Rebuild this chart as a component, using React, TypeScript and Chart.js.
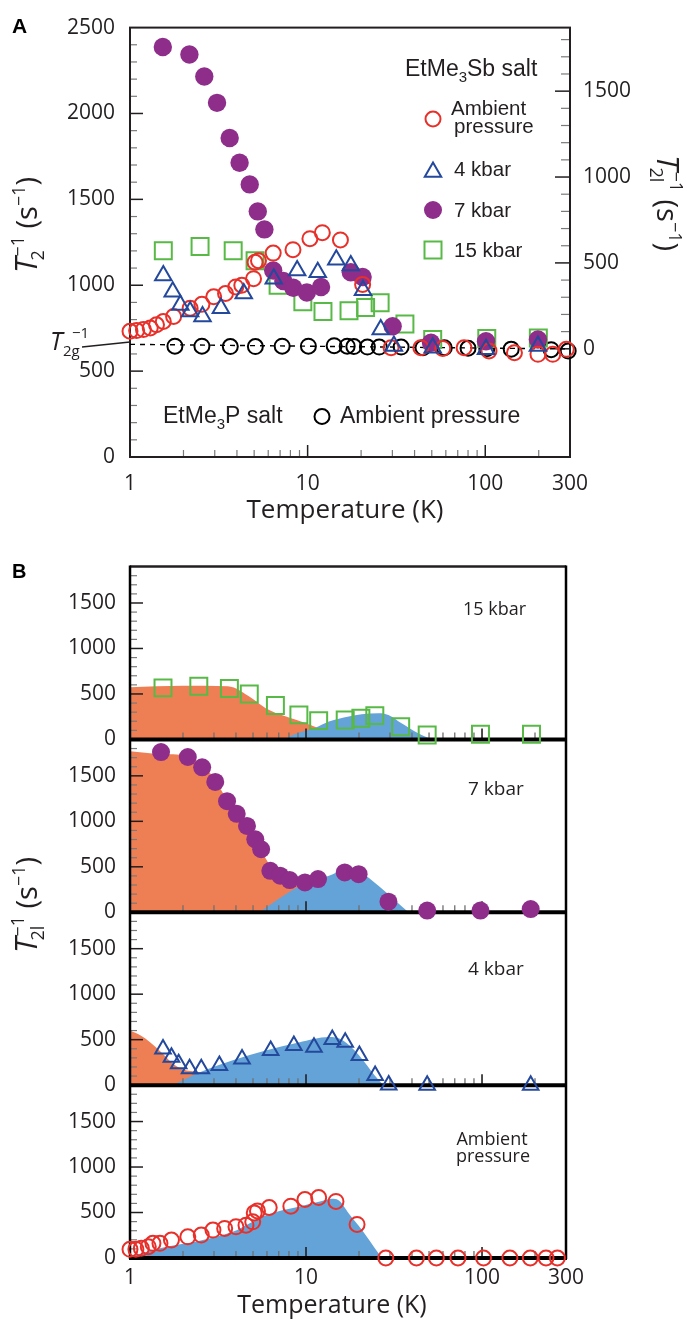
import React, { useEffect, useRef } from "react";
import { Chart, registerables } from "chart.js";

Chart.register(...registerables);

const OPEN = "'Open Sans', 'Noto Sans', sans-serif";
const ARIAL = "'Liberation Sans', Arial, sans-serif";
const INK = "#231f20";
const RED = "#e8302a";
const NAVY = "#23489c";
const PURPLE = "#8e2d8a";
const GREEN = "#58b947";
const ORANGE = "#ee7f55";
const SKY = "#64a3d8";

// shared temperature axis
const tempTicks = [1, 10, 100, 300];
const tempTickLabels = ["1", "10", "100", "300"];
const tempMinor = [2, 3, 4, 5, 6, 7, 8, 9, 20, 30, 40, 50, 60, 70, 80, 90, 200];
const tempMajor = [10, 100];

// ---------------- Panel A ----------------
const aLeftTicks = [0, 500, 1000, 1500, 2000, 2500];
const aRightTicks = [0, 500, 1000, 1500];

const aAmbT = [1.0, 1.09, 1.19, 1.3, 1.41, 1.54, 1.76, 2.18, 2.54, 2.96, 3.45, 3.94, 4.26, 4.96, 5.06, 5.29, 6.4, 8.27, 10.3, 12.1, 15.3, 20.4, 29.5, 43.4, 57.6, 76, 105, 146, 198, 240, 286];
const aAmbV = [732, 736, 742, 751, 770, 789, 818, 866, 889, 933, 952, 990, 1000, 1038, 1134, 1143, 1187, 1207, 1271, 1306, 1264, 1005, 636, 636, 632, 636, 617, 607, 598, 598, 627];

const aK4T = [1.54, 1.74, 1.92, 2.18, 2.56, 3.25, 4.37, 6.45, 8.73, 11.4, 14.5, 17.5, 20.5, 25.8, 30.6, 50.6, 101, 198];
const aK4V = [1057, 962, 885, 847, 818, 866, 952, 1038, 1086, 1076, 1148, 1115, 971, 742, 646, 636, 627, 646];

const aK7T = [1.53, 2.16, 2.62, 3.09, 3.64, 4.14, 4.72, 5.24, 5.71, 6.4, 7.3, 8.3, 9.9, 11.9, 17.5, 20.4, 30.1, 49.5, 101, 198];
const aK7V = [2387, 2343, 2215, 2062, 1857, 1713, 1587, 1430, 1325, 1086, 1025, 985, 958, 990, 1076, 1048, 761, 665, 674, 684];

const aK15T = [1.54, 2.48, 3.81, 5.06, 6.82, 9.4, 12.2, 17.1, 21.2, 25.6, 35.3, 50.6, 102, 199];
const aK15V = [1201, 1226, 1201, 1143, 1000, 904, 847, 851, 870, 898, 774, 684, 690, 693];

const aPT = [1.79, 2.54, 3.67, 5.08, 7.19, 10.1, 14.1, 16.7, 18.2, 21.7, 25.3, 33.6, 44.6, 58.8, 80, 102, 140, 235, 293];
const aPV = [645, 645, 643, 643, 645, 645, 648, 645, 643, 640, 640, 640, 636, 636, 633, 630, 628, 625, 617];

const t2gT = [1, 300];
const t2gV = [656, 629];

// ---------------- Panel B ----------------
const bLeftTicks = [0, 500, 1000, 1500];

const bK15T = [1.54, 2.46, 3.67, 4.76, 6.7, 9.11, 11.8, 16.7, 20.5, 24.6, 34.5, 48.8, 98, 191];
const bK15V = [567, 584, 559, 500, 373, 270, 207, 214, 233, 262, 140, 48, 56, 56];

const bK7T = [1.5, 2.13, 2.57, 3.05, 3.56, 4.04, 4.62, 5.15, 5.56, 6.27, 7.13, 8.08, 9.86, 11.7, 16.6, 19.9, 29.4, 48.8, 98, 189];
const bK7V = [1761, 1707, 1594, 1433, 1222, 1083, 949, 802, 693, 456, 402, 354, 328, 365, 438, 419, 117, 19, 19, 36];

const bK4T = [1.54, 1.72, 1.89, 2.18, 2.54, 3.22, 4.33, 6.3, 8.53, 11.1, 14.1, 16.7, 20.1, 24.7, 29.5, 48.8, 189];
const bK4V = [398, 307, 234, 179, 179, 216, 288, 380, 435, 416, 503, 471, 325, 106, 3, 0, 0];

const bAmbT = [1.0, 1.08, 1.16, 1.27, 1.35, 1.48, 1.72, 2.13, 2.54, 2.96, 3.45, 4.0, 4.56, 4.98, 5.08, 5.3, 6.18, 8.2, 9.86, 11.8, 14.8, 19.5, 28.4, 42.4, 55, 73, 102, 144, 188, 231, 268];
const bAmbV = [95, 95, 106, 124, 161, 161, 197, 233, 252, 307, 325, 343, 361, 398, 496, 518, 555, 570, 643, 665, 622, 369, 0, 0, 0, 0, 0, 0, 0, 0, 0];

const orange15T = [1, 2, 3.6, 4.9, 5.9, 7.7, 10, 11.8, 14, 17];
const orange15V = [575, 590, 585, 456, 344, 251, 178, 122, 60, 0];
const sky15T = [7.35, 9, 11.3, 13.5, 17.5, 20.7, 25.8, 29.4, 34.9, 43.4, 51.8];
const sky15V = [0, 70, 129, 196, 251, 278, 289, 270, 178, 67, 0];

const orange7T = [1, 1.48, 2.09, 2.48, 2.95, 3.51, 4.0, 4.56, 5.08, 5.66, 6.18, 7, 8, 9.5, 11, 13];
const orange7V = [1769, 1740, 1724, 1641, 1496, 1258, 1113, 985, 839, 656, 528, 420, 340, 250, 120, 0];
const sky7T = [5.43, 7, 9.1, 11, 13.5, 16, 19, 22, 25.8, 32.2, 38.2];
const sky7V = [0, 150, 284, 340, 401, 456, 470, 400, 292, 128, 0];

const orange4T = [1, 1.15, 1.3, 1.54, 1.76, 2.1, 2.6, 2.85];
const orange4V = [600, 545, 471, 343, 233, 161, 124, 0];
const sky4T = [1.75, 2.5, 3.8, 5.9, 9.1, 13.5, 16, 20, 24.5, 27.5];
const sky4V = [0, 142, 270, 380, 470, 530, 500, 330, 110, 0];

const skyAmbT = [1, 1.5, 2.49, 3.83, 5.92, 9.1, 12, 14, 15.3, 17.5, 20.8, 25.8, 27];
const skyAmbV = [15, 110, 190, 288, 471, 562, 620, 650, 635, 490, 307, 51, 0];

// ---------------- helpers ----------------
const pts = (xs: number[], ys: number[]) => xs.map((x, i) => ({ x, y: ys[i] }));

type Seg = { t: string; font: string; dx?: number; dy?: number; adv?: boolean };

function richWidth(ctx: CanvasRenderingContext2D, segs: Seg[]) {
  let w = 0;
  for (const s of segs) {
    ctx.font = s.font;
    if (s.adv !== false) w += ctx.measureText(s.t).width + (s.dx || 0);
  }
  return w;
}

function drawRich(ctx: CanvasRenderingContext2D, segs: Seg[], x: number, y: number, align = "left") {
  ctx.textAlign = "left";
  ctx.textBaseline = "alphabetic";
  let cx = align === "center" ? x - richWidth(ctx, segs) / 2 : x;
  for (const s of segs) {
    ctx.font = s.font;
    ctx.fillText(s.t, cx + (s.dx || 0), y + (s.dy || 0));
    if (s.adv !== false) cx += ctx.measureText(s.t).width + (s.dx || 0);
  }
}

function drawRotated(ctx: CanvasRenderingContext2D, segs: Seg[], cx: number, cy: number, angle: number) {
  ctx.save();
  ctx.translate(cx, cy);
  ctx.rotate(angle);
  drawRich(ctx, segs, 0, 0, "center");
  ctx.restore();
}

function seg(ctx: CanvasRenderingContext2D, x1: number, y1: number, x2: number, y2: number, color: string, lw: number) {
  ctx.beginPath();
  ctx.strokeStyle = color;
  ctx.lineWidth = lw;
  ctx.moveTo(x1, y1);
  ctx.lineTo(x2, y2);
  ctx.stroke();
}

function circleMark(ctx: CanvasRenderingContext2D, x: number, y: number, r: number, color: string, filled: boolean) {
  ctx.beginPath();
  ctx.arc(x, y, r, 0, Math.PI * 2);
  if (filled) {
    ctx.fillStyle = color;
    ctx.fill();
  } else {
    ctx.strokeStyle = color;
    ctx.lineWidth = 2;
    ctx.stroke();
  }
}

function triMark(ctx: CanvasRenderingContext2D, x: number, y: number, r: number, color: string) {
  ctx.beginPath();
  let rad = 0;
  for (let i = 0; i < 3; i++) {
    const px = x + Math.sin(rad) * r;
    const py = y - Math.cos(rad) * r;
    if (i === 0) ctx.moveTo(px, py);
    else ctx.lineTo(px, py);
    rad += (2 * Math.PI) / 3;
  }
  ctx.closePath();
  ctx.strokeStyle = color;
  ctx.lineWidth = 2;
  ctx.stroke();
}

function titleSegs(sub: string, big: number): Seg[] {
  const small = Math.round(big * 0.62);
  return [
    { t: "T", font: `italic ${big + 2}px ${OPEN}` },
    { t: sub, font: `${small}px ${OPEN}`, dx: -3, dy: 7, adv: false },
    { t: "\u22121", font: `${small}px ${OPEN}`, dx: 1, dy: -13 },
    { t: " (s", font: `${big}px ${OPEN}` },
    { t: "\u22121", font: `${small}px ${OPEN}`, dy: -12 },
    { t: ")", font: `${big}px ${OPEN}` },
  ];
}

const fixedTicks = (vals: number[]) => (s: any) => {
  s.ticks = vals.map((v) => ({ value: v }));
};

const plainLabel = (v: any) => String(Number(v));

const markerBase = { showLine: false, clip: false as any };

// ---------------- Panel A plugin ----------------
const panelAPlugin = {
  id: "panelA",
  beforeDatasetsDraw(chart: any) {
    const { ctx, chartArea: ca, scales } = chart;
    const x = scales.x, y = scales.y, y2 = scales.y2;
    ctx.save();
    for (let v = 100; v < 2500; v += 100) {
      const p = y.getPixelForValue(v);
      const major = v % 500 === 0;
      seg(ctx, ca.left, p, ca.left + (major ? 13 : 7), p, major ? INK : "#7a7a7a", major ? 1.5 : 1.2);
    }
    for (let v = 0; v <= 1800; v += 100) {
      const p = y2.getPixelForValue(v);
      const major = v % 500 === 0;
      seg(ctx, ca.right, p, ca.right - (major ? 15 : 9), p, major ? INK : "#7a7a7a", major ? 1.5 : 1.2);
    }
    for (const t of tempMinor) {
      const p = x.getPixelForValue(t);
      seg(ctx, p, ca.bottom, p, ca.bottom - 7, "#7a7a7a", 1.2);
    }
    for (const t of tempMajor) {
      const p = x.getPixelForValue(t);
      seg(ctx, p, ca.bottom, p, ca.bottom - 12, INK, 1.5);
    }
    ctx.strokeStyle = INK;
    ctx.lineWidth = 2;
    ctx.strokeRect(ca.left, ca.top, ca.right - ca.left, ca.bottom - ca.top);
    ctx.restore();
  },
  afterDraw(chart: any) {
    const { ctx } = chart;
    ctx.save();
    ctx.fillStyle = "#000";
    drawRich(ctx, [{ t: "A", font: `bold 21px ${ARIAL}` }], 12, 33);
    ctx.fillStyle = INK;
    drawRotated(ctx, titleSegs("2", 29), 37, 225, -Math.PI / 2);
    drawRotated(ctx, titleSegs("2l", 29), 657, 203, Math.PI / 2);
    drawRich(ctx, [{ t: "Temperature (K)", font: `26px ${OPEN}` }], 345, 518, "center");
    // T2g label
    drawRich(ctx, [{ t: "T", font: `italic 25px ${OPEN}` }], 50, 350);
    drawRich(ctx, [{ t: "2g", font: `15px ${OPEN}` }], 63, 356);
    drawRich(ctx, [{ t: "\u22121", font: `15px ${OPEN}` }], 72, 338);
    seg(ctx, 82, 347, 130, 342, INK, 1.5);
    // legend
    ctx.fillStyle = INK;
    drawRich(ctx, [
      { t: "EtMe", font: `23px ${ARIAL}` },
      { t: "3", font: `15px ${ARIAL}`, dy: 6 },
      { t: "Sb salt", font: `23px ${ARIAL}` },
    ], 405, 76);
    circleMark(ctx, 433, 119, 7.5, RED, false);
    ctx.fillStyle = INK;
    drawRich(ctx, [{ t: "Ambient", font: `20.5px ${ARIAL}` }], 451, 115);
    drawRich(ctx, [{ t: "pressure", font: `20.5px ${ARIAL}` }], 454, 133);
    triMark(ctx, 433, 172, 9.5, NAVY);
    ctx.fillStyle = INK;
    drawRich(ctx, [{ t: "4 kbar", font: `20.5px ${ARIAL}` }], 454, 176);
    circleMark(ctx, 433, 210, 9, PURPLE, true);
    ctx.fillStyle = INK;
    drawRich(ctx, [{ t: "7 kbar", font: `20.5px ${ARIAL}` }], 454, 217);
    ctx.strokeStyle = GREEN;
    ctx.lineWidth = 2;
    ctx.strokeRect(433 - 8.5, 250 - 8.5, 17, 17);
    ctx.fillStyle = INK;
    drawRich(ctx, [{ t: "15 kbar", font: `20.5px ${ARIAL}` }], 454, 257);
    drawRich(ctx, [
      { t: "EtMe", font: `23px ${ARIAL}` },
      { t: "3", font: `15px ${ARIAL}`, dy: 6 },
      { t: "P salt", font: `23px ${ARIAL}` },
    ], 163, 423);
    circleMark(ctx, 322, 416.5, 7.5, "#000", false);
    ctx.fillStyle = INK;
    drawRich(ctx, [{ t: "Ambient pressure", font: `23px ${ARIAL}` }], 340, 423);
    ctx.restore();
  },
};

// ---------------- Panel B plugin ----------------
const FILL_TOP_INDEX = 4;
const TOP_OFFSET_B = 540;

function drawFrameB(chart: any) {
  const { ctx, chartArea: ca, scales } = chart;
  const x = scales.x;
  const ys = ["y15", "y7", "y4", "yAmb"].map((id) => scales[id]);
  ctx.save();
  for (const y of ys) {
    for (let v = 100; v <= 1800; v += 100) {
      const p = y.getPixelForValue(v);
      const major = v % 500 === 0;
      seg(ctx, ca.left, p, ca.left + (major ? 13 : 7), p, major ? INK : "#7a7a7a", major ? 1.5 : 1.2);
    }
    const z = y.getPixelForValue(0);
    for (const t of tempMinor) {
      const p = x.getPixelForValue(t);
      seg(ctx, p, z, p, z - 7, "#6f6f6f", 1.3);
    }
    for (const t of tempMajor) {
      const p = x.getPixelForValue(t);
      seg(ctx, p, z, p, z - 11, INK, 1.6);
    }
  }
  for (const y of ys) {
    const z = y.getPixelForValue(0);
    seg(ctx, ca.left - 1, z, ca.right + 1, z, "#000", 4);
  }
  seg(ctx, ca.left, ca.top, ca.right, ca.top, INK, 2.5);
  seg(ctx, ca.left, ca.top - 1, ca.left, ca.bottom + 1, "#000", 2.5);
  seg(ctx, ca.right, ca.top - 1, ca.right, ca.bottom + 1, "#000", 2.5);
  ctx.restore();
}

const panelBPlugin = {
  id: "panelB",
  afterDatasetDraw(chart: any, args: any) {
    if (args.index === FILL_TOP_INDEX) drawFrameB(chart);
  },
  afterDraw(chart: any) {
    const { ctx } = chart;
    const o = TOP_OFFSET_B;
    ctx.save();
    ctx.fillStyle = "#000";
    drawRich(ctx, [{ t: "B", font: `bold 20px ${ARIAL}` }], 12, 578 - o);
    ctx.fillStyle = INK;
    drawRotated(ctx, titleSegs("2l", 29), 37, 905 - o, -Math.PI / 2);
    drawRich(ctx, [{ t: "Temperature (K)", font: `25px ${OPEN}` }], 332, 1313 - o, "center");
    drawRich(ctx, [{ t: "15 kbar", font: `18px ${OPEN}` }], 463, 615 - o);
    drawRich(ctx, [{ t: "7 kbar", font: `19px ${OPEN}` }], 468, 795 - o);
    drawRich(ctx, [{ t: "4 kbar", font: `19px ${OPEN}` }], 468, 975 - o);
    drawRich(ctx, [{ t: "Ambient", font: `18px ${OPEN}` }], 492, 1145 - o, "center");
    drawRich(ctx, [{ t: "pressure", font: `18px ${OPEN}` }], 493, 1162 - o, "center");
    ctx.restore();
  },
};

function tickFont(size: number) {
  return { family: OPEN, size };
}

function makeConfigA(): any {
  return {
    type: "scatter",
    data: {
      datasets: [
        { ...markerBase, label: "4 kbar", data: pts(aK4T, aK4V), pointStyle: "triangle", pointRadius: 9.5, pointBorderWidth: 2, borderColor: NAVY, backgroundColor: "rgba(0,0,0,0)", yAxisID: "y" },
        { ...markerBase, label: "Ambient pressure", data: pts(aAmbT, aAmbV), pointStyle: "circle", pointRadius: 7.5, pointBorderWidth: 2, borderColor: RED, backgroundColor: "rgba(0,0,0,0)", yAxisID: "y" },
        { ...markerBase, label: "7 kbar", data: pts(aK7T, aK7V), pointStyle: "circle", pointRadius: 9.2, pointBorderWidth: 0, borderColor: PURPLE, backgroundColor: PURPLE, yAxisID: "y" },
        { ...markerBase, label: "15 kbar", data: pts(aK15T, aK15V), pointStyle: "rect", pointRadius: 12, pointBorderWidth: 2, borderColor: GREEN, backgroundColor: "rgba(0,0,0,0)", yAxisID: "y" },
        { ...markerBase, label: "EtMe3P", data: pts(aPT, aPV), pointStyle: "circle", pointRadius: 7.5, pointBorderWidth: 2, borderColor: "#000", backgroundColor: "rgba(0,0,0,0)", yAxisID: "y" },
        { label: "T2g", data: pts(t2gT, t2gV), showLine: true, pointRadius: 0, borderColor: "#000", borderWidth: 1.4, borderDash: [5, 5], yAxisID: "y" },
      ],
    },
    options: {
      responsive: false,
      devicePixelRatio: 1,
      animation: false,
      layout: { padding: { top: 22, right: 0, bottom: 0, left: 0 } },
      plugins: { legend: { display: false }, tooltip: { enabled: false } },
      scales: {
        x: {
          type: "logarithmic", min: 1, max: 300, position: "bottom",
          afterBuildTicks: fixedTicks(tempTicks),
          afterFit: (s: any) => { s.height = 73; },
          grid: { display: false, drawTicks: false }, border: { display: false },
          ticks: { autoSkip: false, maxRotation: 0, minRotation: 0, padding: 14, color: INK, font: tickFont(21), callback: (v: any) => tempTickLabels[tempTicks.indexOf(Number(v))] ?? "" },
        },
        y: {
          type: "linear", min: 0, max: 2500, position: "left",
          afterBuildTicks: fixedTicks(aLeftTicks),
          afterFit: (s: any) => { s.width = 130; },
          grid: { display: false, drawTicks: false }, border: { display: false },
          ticks: { padding: 15, color: INK, font: tickFont(21), callback: plainLabel },
        },
        y2: {
          type: "linear", min: -630, max: 1870, position: "right",
          afterBuildTicks: fixedTicks(aRightTicks),
          afterFit: (s: any) => { s.width = 117; },
          grid: { display: false, drawTicks: false }, border: { display: false },
          ticks: { padding: 13, color: INK, font: tickFont(21), callback: plainLabel },
        },
      },
    },
    plugins: [panelAPlugin],
  };
}

function fillSet(xs: number[], ys: number[], color: string, axis: string) {
  return { data: pts(xs, ys), showLine: true, fill: "origin", pointRadius: 0, borderWidth: 0, borderColor: color, backgroundColor: color, cubicInterpolationMode: "monotone", yAxisID: axis };
}

function yAxisB(): any {
  return {
    type: "linear", min: 0, max: 1900, position: "left", stack: "b", stackWeight: 1,
    afterBuildTicks: fixedTicks(bLeftTicks),
    afterFit: (s: any) => { s.width = 130; },
    grid: { display: false, drawTicks: false }, border: { display: false },
    ticks: { padding: 14, color: INK, font: tickFont(21), callback: plainLabel },
  };
}

function makeConfigB(): any {
  return {
    type: "scatter",
    data: {
      datasets: [
        { ...markerBase, data: pts(bK15T, bK15V), pointStyle: "rect", pointRadius: 12, pointBorderWidth: 2, borderColor: GREEN, backgroundColor: "rgba(0,0,0,0)", yAxisID: "y15" },
        { ...markerBase, data: pts(bK7T, bK7V), pointStyle: "circle", pointRadius: 9, pointBorderWidth: 0, borderColor: PURPLE, backgroundColor: PURPLE, yAxisID: "y7" },
        { ...markerBase, data: pts(bK4T, bK4V), pointStyle: "triangle", pointRadius: 9, pointBorderWidth: 2, borderColor: NAVY, backgroundColor: "rgba(0,0,0,0)", yAxisID: "y4" },
        { ...markerBase, data: pts(bAmbT, bAmbV), pointStyle: "circle", pointRadius: 7.5, pointBorderWidth: 2, borderColor: RED, backgroundColor: "rgba(0,0,0,0)", yAxisID: "yAmb" },
        fillSet(sky15T, sky15V, SKY, "y15"),
        fillSet(sky7T, sky7V, SKY, "y7"),
        fillSet(sky4T, sky4V, SKY, "y4"),
        fillSet(skyAmbT, skyAmbV, SKY, "yAmb"),
        fillSet(orange15T, orange15V, ORANGE, "y15"),
        fillSet(orange7T, orange7V, ORANGE, "y7"),
        fillSet(orange4T, orange4V, ORANGE, "y4"),
      ],
    },
    options: {
      responsive: false,
      devicePixelRatio: 1,
      animation: false,
      layout: { padding: { top: 23, right: 121, bottom: 0, left: 0 } },
      plugins: { legend: { display: false }, tooltip: { enabled: false } },
      scales: {
        x: {
          type: "logarithmic", min: 1, max: 300, position: "bottom",
          afterBuildTicks: fixedTicks(tempTicks),
          afterFit: (s: any) => { s.height = 63; },
          grid: { display: false, drawTicks: false }, border: { display: false },
          ticks: { autoSkip: false, maxRotation: 0, minRotation: 0, padding: 7, color: INK, font: tickFont(21), callback: (v: any) => tempTickLabels[tempTicks.indexOf(Number(v))] ?? "" },
        },
        yAmb: yAxisB(),
        y4: yAxisB(),
        y7: yAxisB(),
        y15: yAxisB(),
      },
    },
    plugins: [panelBPlugin],
  };
}

export default function App() {
  const refA = useRef<HTMLCanvasElement>(null);
  const refB = useRef<HTMLCanvasElement>(null);
  useEffect(() => {
    const a = new Chart(refA.current as HTMLCanvasElement, makeConfigA());
    const b = new Chart(refB.current as HTMLCanvasElement, makeConfigB());
    return () => {
      a.destroy();
      b.destroy();
    };
  }, []);
  return (
    <div style={{ position: "absolute", left: 0, top: 0, width: 687, height: 1321, background: "#fff" }}>
      <canvas ref={refA} width={687} height={530} style={{ position: "absolute", left: 0, top: 0 }} />
      <canvas ref={refB} width={687} height={781} style={{ position: "absolute", left: 0, top: 540 }} />
    </div>
  );
}
